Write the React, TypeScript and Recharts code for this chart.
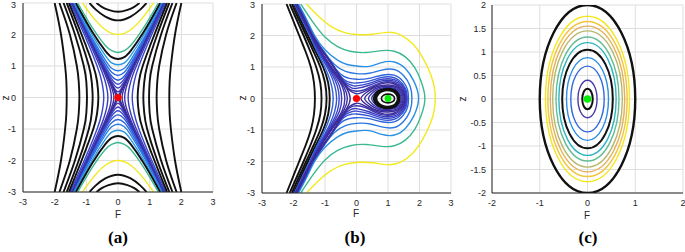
import { LineChart, Line, XAxis, YAxis, CartesianGrid, ReferenceDot } from "recharts";

type P = [number, number];

// ---------- panel (a): one quadrant of each contour, mirrored below ----------
const ticksAB = [-3, -2, -1, 0, 1, 2, 3];

// curves with their vertex on the z axis (F >= 0, z > 0)
const aVert: P[][] = [
  [[0, 0.08], [0.05, 0.13], [0.1, 0.22], [0.2, 0.42], [0.4, 0.83], [0.8, 1.66], [1.2, 2.48], [1.45, 3]],
  [[0, 0.18], [0.1, 0.27], [0.2, 0.45], [0.4, 0.85], [0.8, 1.67], [1.2, 2.49], [1.447, 3]],
  [[0, 0.3], [0.2, 0.51], [0.4, 0.88], [0.8, 1.68], [1.2, 2.5], [1.44, 3]],
  [[0, 0.42], [0.2, 0.59], [0.4, 0.93], [0.8, 1.7], [1.2, 2.52], [1.435, 3]],
  [[0, 0.55], [0.2, 0.68], [0.4, 0.99], [0.8, 1.74], [1.2, 2.54], [1.425, 3]],
  [[0, 0.7], [0.2, 0.8], [0.4, 1.08], [0.8, 1.8], [1.2, 2.58], [1.41, 3]],
  [[0, 0.85], [0.2, 0.93], [0.4, 1.19], [0.8, 1.86], [1.2, 2.62], [1.39, 3]],
  [[0, 1.04], [0.2, 1.1], [0.4, 1.33], [0.8, 1.96], [1.2, 2.69], [1.36, 3]],
  [[0, 1.22], [0.2, 1.28], [0.4, 1.48], [0.8, 2.06], [1.2, 2.76], [1.325, 3]],
  [[0, 1.43], [0.2, 1.49], [0.4, 1.65], [0.8, 2.2], [1.2, 2.87], [1.275, 3]],
  [[0, 2.0], [0.4, 2.15], [0.8, 2.56], [1.12, 3]],
  [[0, 2.45], [0.4, 2.57], [0.7, 2.79], [0.9, 3]],
  [[0, 2.72], [0.3, 2.78], [0.5, 2.87], [0.68, 3]],
];
const aVertColor = [
  "#3b2a98", "#3c31aa", "#3c3cbe", "#3848cf", "#3258da", "#2c68e0", "#2a7ce4",
  "#2a98e6", "#111111", "#3cb893", "#f2ea1e", "#111111", "#111111",
];

// curves with their vertex on the F axis (F > 0, z >= 0)
const aSide: P[][] = [
  [[0.06, 0], [0.077, 0.1], [0.114, 0.2], [0.249, 0.5], [0.487, 1], [0.969, 2], [1.451, 3]],
  [[0.13, 0], [0.162, 0.2], [0.274, 0.5], [0.5, 1], [0.976, 2], [1.456, 3]],
  [[0.21, 0], [0.255, 0.3], [0.358, 0.6], [0.527, 1], [0.989, 2], [1.465, 3]],
  [[0.32, 0], [0.401, 0.5], [0.58, 1], [1.018, 2], [1.485, 3]],
  [[0.45, 0], [0.511, 0.5], [0.66, 1], [1.066, 2], [1.518, 3]],
  [[0.62, 0], [0.66, 0.5], [0.78, 1], [1.15, 2], [1.55, 3]],
  [[0.8, 0], [0.83, 0.5], [0.92, 1], [1.24, 2], [1.62, 3]],
  [[0.98, 0], [1.0, 0.5], [1.08, 1], [1.36, 2], [1.72, 3]],
  [[1.22, 0], [1.24, 0.5], [1.3, 1], [1.52, 2], [1.85, 3]],
  [[1.62, 0], [1.63, 0.5], [1.67, 1], [1.8, 2], [2.0, 3]],
];
const aSideColor = [
  "#3b2a98", "#3b2e9f", "#3b33ac", "#3a3cbc", "#3747cc",
  "#111111", "#111111", "#111111", "#111111", "#111111",
];
const saddleA = { F: 0, z: 0 };

// ---------- panel (b): upper halves, mirrored in z ----------
// open curves that wrap round the right side (top-left edge -> rightmost point)
const bWrap: P[][] = [
  [[-1.59, 3], [-1.2, 2.6], [-0.8, 2.28], [-0.4, 2.1], [0, 2.03], [0.5, 2.04], [1.0, 2.1], [1.4, 2.02], [1.8, 1.72], [2.1, 1.3], [2.35, 0.78], [2.47, 0.35], [2.5, 0]],
  [[-1.77, 3], [-1.4, 2.45], [-1.0, 1.95], [-0.6, 1.65], [-0.2, 1.5], [0.3, 1.46], [0.8, 1.52], [1.2, 1.5], [1.55, 1.32], [1.85, 0.98], [2.05, 0.55], [2.15, 0.2], [2.17, 0]],
  [[-1.84, 3], [-1.58, 2.5], [-1.33, 2.0], [-1.0, 1.55], [-0.6, 1.22], [-0.3, 1.08], [0, 1.03], [0.4, 1.02], [0.8, 1.14], [1.2, 1.16], [1.55, 0.95], [1.82, 0.55], [1.97, 0]],
  [[-1.87, 3], [-1.6, 2.5], [-1.36, 2.0], [-1.04, 1.5], [-0.7, 1.08], [-0.35, 0.86], [0, 0.79], [0.4, 0.8], [0.8, 0.9], [1.2, 0.92], [1.5, 0.72], [1.7, 0.4], [1.76, 0]],
  [[-1.89, 3], [-1.62, 2.5], [-1.38, 2.0], [-1.05, 1.5], [-0.72, 1.02], [-0.4, 0.7], [0, 0.61], [0.4, 0.64], [0.8, 0.74], [1.2, 0.74], [1.47, 0.55], [1.62, 0.28], [1.65, 0]],
  [[-1.9, 3], [-1.63, 2.5], [-1.39, 2.0], [-1.06, 1.5], [-0.72, 1.0], [-0.4, 0.6], [-0.15, 0.5], [0, 0.49], [0.4, 0.55], [0.8, 0.67], [1.2, 0.66], [1.45, 0.48], [1.58, 0.25], [1.61, 0]],
  [[-1.9, 3], [-1.64, 2.5], [-1.39, 2.0], [-1.06, 1.5], [-0.72, 1.0], [-0.42, 0.56], [-0.15, 0.42], [0, 0.4], [0.4, 0.48], [0.8, 0.61], [1.2, 0.6], [1.44, 0.44], [1.56, 0.22], [1.59, 0]],
  [[-1.91, 3], [-1.64, 2.5], [-1.4, 2.0], [-1.07, 1.5], [-0.72, 1.0], [-0.42, 0.53], [-0.18, 0.35], [0, 0.32], [0.4, 0.42], [0.8, 0.56], [1.2, 0.55], [1.43, 0.4], [1.54, 0.2], [1.57, 0]],
  [[-1.91, 3], [-1.65, 2.5], [-1.4, 2.0], [-1.07, 1.5], [-0.72, 1.0], [-0.41, 0.51], [-0.2, 0.28], [0, 0.23], [0.3, 0.3], [0.8, 0.51], [1.2, 0.5], [1.42, 0.36], [1.52, 0.18], [1.55, 0]],
  [[-1.92, 3], [-1.65, 2.5], [-1.4, 2.0], [-1.07, 1.5], [-0.72, 1.0], [-0.4, 0.5], [-0.2, 0.24], [0, 0.15], [0.2, 0.2], [0.8, 0.47], [1.2, 0.46], [1.4, 0.33], [1.5, 0.16], [1.53, 0]],
];
const bWrapColor = [
  "#f2ea1e", "#3cb893", "#2a90e4", "#2c78e2", "#2f64dc",
  "#3454d4", "#3846c8", "#3a3cbc", "#3b33ac", "#3b2ea0",
];

// curves left of the saddle (vertex on z = 0 -> top edge)
const bLeft: P[][] = [
  [[-1.32, 0], [-1.35, 0.5], [-1.45, 1.0], [-1.62, 1.5], [-1.82, 2.0], [-2.02, 2.5], [-2.22, 3]],
  [[-1.11, 0], [-1.15, 0.5], [-1.28, 1.0], [-1.47, 1.5], [-1.68, 2.0], [-1.9, 2.5], [-2.12, 3]],
  [[-0.95, 0], [-1.0, 0.5], [-1.15, 1.0], [-1.37, 1.5], [-1.6, 2.0], [-1.83, 2.5], [-2.05, 3]],
  [[-0.85, 0], [-0.9, 0.5], [-1.06, 1.0], [-1.3, 1.5], [-1.54, 2.0], [-1.77, 2.5], [-1.99, 3]],
  [[-0.74, 0], [-0.79, 0.4], [-0.92, 0.8], [-1.1, 1.2], [-1.3, 1.6], [-1.48, 2.0], [-1.73, 2.5], [-1.97, 3]],
  [[-0.63, 0], [-0.69, 0.4], [-0.84, 0.8], [-1.05, 1.2], [-1.27, 1.6], [-1.46, 2.0], [-1.71, 2.5], [-1.96, 3]],
  [[-0.55, 0], [-0.61, 0.4], [-0.79, 0.8], [-1.02, 1.2], [-1.25, 1.6], [-1.45, 2.0], [-1.7, 2.5], [-1.95, 3]],
  [[-0.47, 0], [-0.54, 0.4], [-0.75, 0.8], [-0.99, 1.2], [-1.23, 1.6], [-1.44, 2.0], [-1.69, 2.5], [-1.94, 3]],
  [[-0.37, 0], [-0.46, 0.4], [-0.71, 0.8], [-0.97, 1.2], [-1.21, 1.6], [-1.43, 2.0], [-1.68, 2.5], [-1.93, 3]],
  [[-0.29, 0], [-0.39, 0.35], [-0.68, 0.8], [-0.95, 1.2], [-1.2, 1.6], [-1.42, 2.0], [-1.67, 2.5], [-1.92, 3]],
  [[-0.2, 0], [-0.3, 0.3], [-0.65, 0.8], [-0.93, 1.2], [-1.19, 1.6], [-1.41, 2.0], [-1.66, 2.5], [-1.91, 3]],
];
const bLeftColor = [
  "#111111", "#111111", "#111111", "#111111",
  "#2f64dc", "#3454d4", "#3846c8", "#3a3cbc", "#3b33ac", "#3b2ea0", "#3b2a98",
];

// closed loops round the centre (left extreme -> right extreme)
const bLoop: P[][] = [
  [[0.14, 0], [0.35, 0.22], [0.65, 0.38], [1.0, 0.43], [1.3, 0.37], [1.47, 0.2], [1.51, 0]],
  [[0.26, 0], [0.45, 0.21], [0.7, 0.35], [1.0, 0.39], [1.3, 0.33], [1.44, 0.18], [1.48, 0]],
  [[0.38, 0], [0.52, 0.19], [0.75, 0.32], [1.0, 0.35], [1.28, 0.3], [1.41, 0.16], [1.45, 0]],
  [[0.48, 0], [0.58, 0.17], [0.78, 0.29], [1.0, 0.32], [1.26, 0.27], [1.38, 0.14], [1.42, 0]],
  [[0.55, 0], [0.62, 0.18], [0.8, 0.28], [1.0, 0.31], [1.22, 0.26], [1.34, 0.13], [1.37, 0]],
  [[0.59, 0], [0.66, 0.16], [0.82, 0.26], [1.0, 0.285], [1.2, 0.24], [1.31, 0.12], [1.34, 0]],
  [[0.63, 0], [0.7, 0.15], [0.84, 0.24], [1.0, 0.26], [1.18, 0.22], [1.28, 0.11], [1.31, 0]],
  [[0.79, 0], [0.85, 0.1], [1.0, 0.14], [1.15, 0.1], [1.21, 0]],
];
const bLoopColor = [
  "#3b2a98", "#3b2e9f", "#3b33ac", "#3a3cbc",
  "#111111", "#111111", "#111111", "#111111",
];
const bLoopWidth = [1.4, 1.4, 1.4, 1.4, 2.0, 2.0, 2.0, 1.6];
const saddleB = { F: 0, z: 0 };
const centreB = { F: 1, z: 0 };

// ---------- panel (c): ellipses, half-widths and half-heights ----------
const ticksCx = [-2, -1, 0, 1, 2];
const ticksCz = [-2, -1.5, -1, -0.5, 0, 0.5, 1, 1.5, 2];
const ellA = [1.0, 0.88, 0.83, 0.78, 0.73, 0.66, 0.6, 0.53, 0.44, 0.35, 0.2, 0.11];
const ellB = [2.0, 1.76, 1.65, 1.55, 1.45, 1.32, 1.2, 1.05, 0.88, 0.7, 0.4, 0.22];
const ellColor = [
  "#111111", "#f4e61e", "#f3c43c", "#e2b05a", "#b6b86c", "#62bd96",
  "#2cb5bf", "#111111", "#2c8ee6", "#3068e0", "#4b3aa8", "#111111",
];
const centreC = { F: 0, z: 0 };

// ---------- helpers ----------
const pts = (arr: P[]) => arr.map(([F, z]) => ({ F, z }));
const vFull = (q: P[], s: number) =>
  pts([...q.slice(1).reverse().map(([F, z]) => [-F, s * z] as P), ...q.map(([F, z]) => [F, s * z] as P)]);
const hFull = (q: P[], s: number) =>
  pts([...q.slice(1).reverse().map(([F, z]) => [s * F, -z] as P), ...q.map(([F, z]) => [s * F, z] as P)]);
const wrapFull = (u: P[]) => pts([...u, ...u.slice(0, -1).reverse().map(([F, z]) => [F, -z] as P)]);
const leftFull = (u: P[]) => pts([...u.slice(1).reverse().map(([F, z]) => [F, -z] as P), ...u]);
const loopFull = (u: P[]) => pts([...u, ...u.slice(1, -1).reverse().map(([F, z]) => [F, -z] as P)]);

// closed cardinal spline, k = handle length factor
const closedSpline = (k: number) => (ctx: any) => {
  let p: number[][] = [];
  return {
    areaStart() {},
    areaEnd() {},
    lineStart() {
      p = [];
    },
    point(x: number, y: number) {
      p.push([+x, +y]);
    },
    lineEnd() {
      const n = p.length;
      if (!n) return;
      ctx.moveTo(p[0][0], p[0][1]);
      for (let i = 0; i < n; i++) {
        const p0 = p[(i - 1 + n) % n];
        const p1 = p[i];
        const p2 = p[(i + 1) % n];
        const p3 = p[(i + 2) % n];
        ctx.bezierCurveTo(
          p1[0] + (p2[0] - p0[0]) * k, p1[1] + (p2[1] - p0[1]) * k,
          p2[0] - (p3[0] - p1[0]) * k, p2[1] - (p3[1] - p1[1]) * k,
          p2[0], p2[1]
        );
      }
      ctx.closePath();
    },
  };
};
const egg = closedSpline(1 / 6);
const oval = closedSpline(0.2761);

const FONT = "'Liberation Sans', Arial, sans-serif";
const tickStyle = { fill: "#262626", fontSize: 9, fontFamily: FONT };
const axisLine = { stroke: "#262626", strokeWidth: 1 };
const GRID = "#dedede";

// y tick that stays inside the page at the very top
const YTick = (props: any) => {
  const { x, y, payload } = props;
  return (
    <text x={x} y={Math.max(y, 5)} dy="0.35em" textAnchor="end" {...tickStyle}>
      {payload.value}
    </text>
  );
};

const lw = (c: string) => (c === "#111111" ? 1.9 : 1.4);

function curve(key: string, data: any[], color: string, type: any = "natural", w?: number) {
  return (
    <Line
      key={key}
      data={data}
      dataKey="z"
      type={type}
      stroke={color}
      strokeWidth={w ?? lw(color)}
      dot={false}
      activeDot={false}
      isAnimationActive={false}
    />
  );
}

const PanelA = () => (
  <LineChart width={230} height={230} margin={{ top: 3, right: 17, bottom: 0, left: 0 }}>
    <CartesianGrid stroke={GRID} />
    <XAxis type="number" dataKey="F" domain={[-3, 3]} ticks={ticksAB} interval={0} allowDataOverflow
      height={38} tickLine={false} tickSize={0} tickMargin={7} axisLine={axisLine} tick={tickStyle} />
    <YAxis type="number" domain={[-3, 3]} ticks={ticksAB} interval={0} allowDataOverflow
      width={23} tickLine={false} tickSize={0} tickMargin={7} axisLine={axisLine} tick={<YTick />} />
    {aVert.map((q, i) => curve(`vt${i}`, vFull(q, 1), aVertColor[i]))}
    {aVert.map((q, i) => curve(`vb${i}`, vFull(q, -1), aVertColor[i]))}
    {aSide.map((q, i) => curve(`hr${i}`, hFull(q, 1), aSideColor[i]))}
    {aSide.map((q, i) => curve(`hl${i}`, hFull(q, -1), aSideColor[i]))}
    <ReferenceDot x={saddleA.F} y={saddleA.z} r={3.6} fill="#ff0000" stroke="none" />
  </LineChart>
);

const PanelB = () => (
  <LineChart width={230} height={230} margin={{ top: 4, right: 9, bottom: 0, left: 0 }}>
    <CartesianGrid stroke={GRID} />
    <XAxis type="number" dataKey="F" domain={[-3, 3]} ticks={ticksAB} interval={0} allowDataOverflow
      height={37} tickLine={false} tickSize={0} tickMargin={7} axisLine={axisLine} tick={tickStyle} />
    <YAxis type="number" domain={[-3, 3]} ticks={ticksAB} interval={0} allowDataOverflow
      width={32} tickLine={false} tickSize={0} tickMargin={7} axisLine={axisLine} tick={<YTick />} />
    {bWrap.map((u, i) => curve(`w${i}`, wrapFull(u), bWrapColor[i]))}
    {bLeft.map((u, i) => curve(`l${i}`, leftFull(u), bLeftColor[i]))}
    {bLoop.map((u, i) => curve(`o${i}`, loopFull(u), bLoopColor[i], egg, bLoopWidth[i]))}
    <ReferenceDot x={saddleB.F} y={saddleB.z} r={3.6} fill="#ff0000" stroke="none" />
    <ReferenceDot x={centreB.F} y={centreB.z} r={3.4} fill="#00ee00" stroke="none" />
  </LineChart>
);

const PanelC = () => (
  <LineChart width={225} height={230} margin={{ top: 5, right: 2, bottom: 0, left: 0 }}>
    <CartesianGrid stroke={GRID} />
    <XAxis type="number" dataKey="F" domain={[-2, 2]} ticks={ticksCx} interval={0} allowDataOverflow
      height={37} tickLine={false} tickSize={0} tickMargin={7} axisLine={axisLine} tick={tickStyle} />
    <YAxis type="number" domain={[-2, 2]} ticks={ticksCz} interval={0} allowDataOverflow
      width={32} tickLine={false} tickSize={0} tickMargin={6} axisLine={axisLine} tick={<YTick />} />
    {ellA.map((a, i) =>
      curve(
        `e${i}`,
        pts([[-a, 0], [0, ellB[i]], [a, 0], [0, -ellB[i]]]),
        ellColor[i],
        oval,
        i === 0 ? 2.4 : ellColor[i] === "#111111" ? 2.0 : 1.4
      )
    )}
    <ReferenceDot x={centreC.F} y={centreC.z} r={3.8} fill="#00ee00" stroke="none" />
  </LineChart>
);

const labelStyle = { fill: "#262626", fontSize: 10, fontFamily: FONT };
const capStyle = { fill: "#000", fontSize: 17, fontWeight: 700, fontFamily: "'Liberation Serif', 'Times New Roman', serif" };

export default function App() {
  return (
    <div style={{ position: "absolute", left: 0, top: 0, width: 685, height: 252, background: "#fff" }}>
      <div style={{ position: "absolute", left: 0, top: 0 }}>
        <PanelA />
      </div>
      <div style={{ position: "absolute", left: 230, top: 0 }}>
        <PanelB />
      </div>
      <div style={{ position: "absolute", left: 460, top: 0 }}>
        <PanelC />
      </div>
      <svg width={685} height={252} style={{ position: "absolute", left: 0, top: 0, pointerEvents: "none" }}>
        <text x={118} y={218} textAnchor="middle" {...labelStyle}>F</text>
        <text x={356} y={217} textAnchor="middle" {...labelStyle}>F</text>
        <text x={587} y={219} textAnchor="middle" {...labelStyle}>F</text>
        <text x={9} y={98} textAnchor="middle" transform="rotate(-90 9 98)" {...labelStyle}>z</text>
        <text x={246} y={98} textAnchor="middle" transform="rotate(-90 246 98)" {...labelStyle}>z</text>
        <text x={466} y={99} textAnchor="middle" transform="rotate(-90 466 99)" {...labelStyle}>z</text>
        <text x={118} y={243} textAnchor="middle" {...capStyle}>(a)</text>
        <text x={355} y={243} textAnchor="middle" {...capStyle}>(b)</text>
        <text x={588} y={243} textAnchor="middle" {...capStyle}>(c)</text>
      </svg>
    </div>
  );
}
